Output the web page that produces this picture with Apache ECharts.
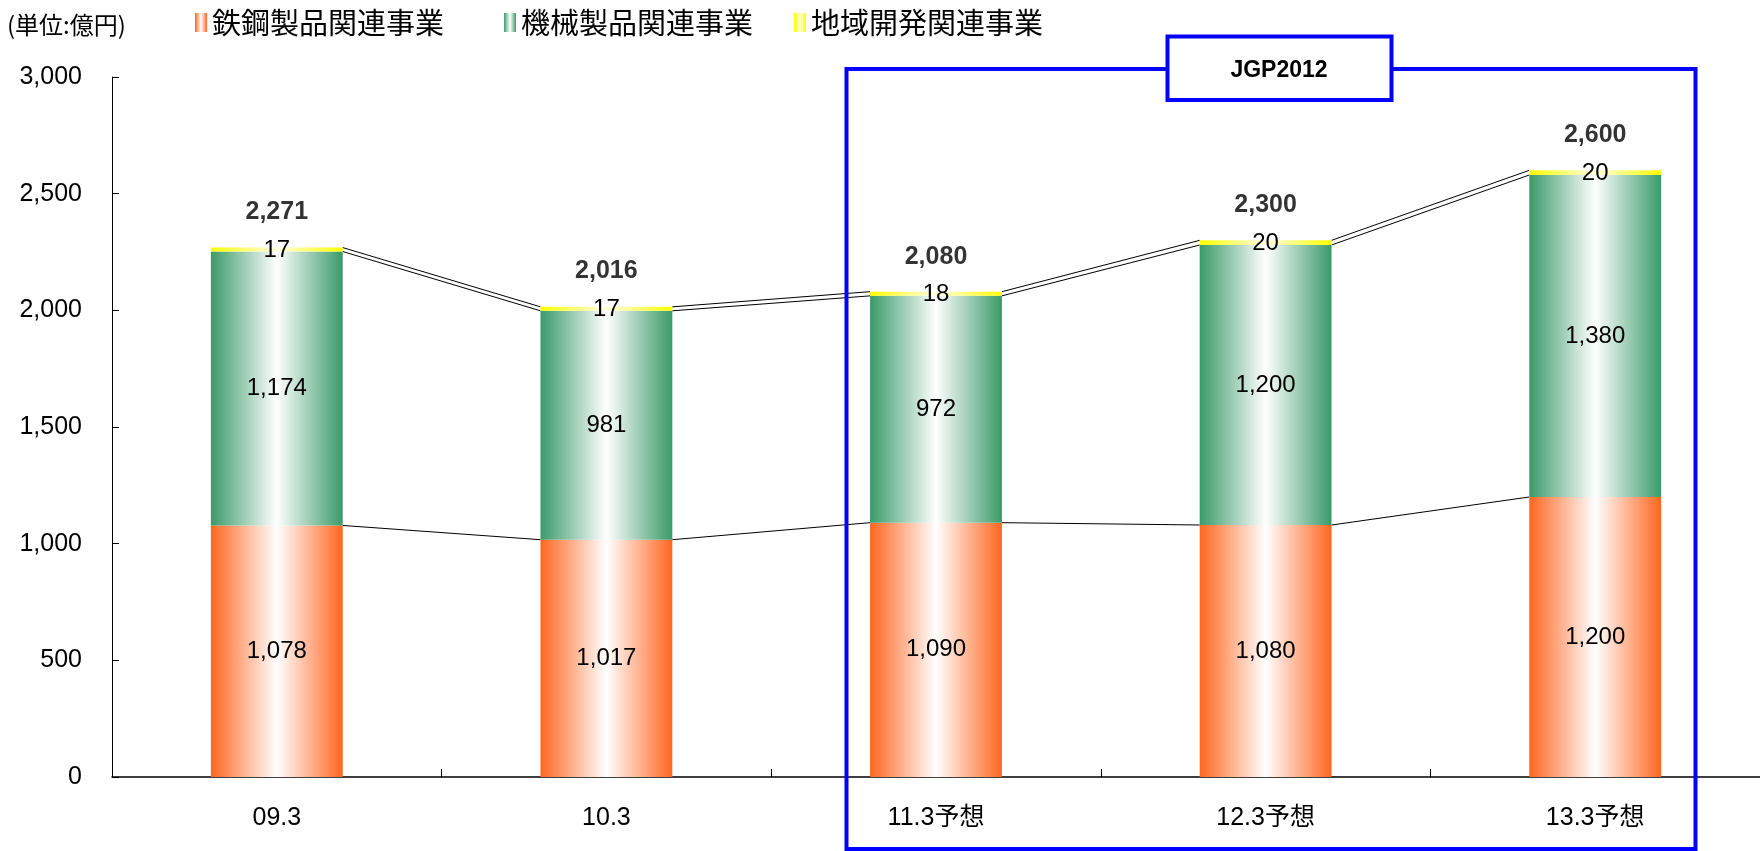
<!DOCTYPE html>
<html>
<head>
<meta charset="utf-8">
<script src="https://cdn.jsdelivr.net/npm/echarts@6/dist/echarts.min.js"></script>
<style>
html,body{margin:0;padding:0;background:#fff;}
#chart{width:1760px;height:851px;}
</style>
</head>
<body>
<div id="chart"></div>
<script>
const categories = ['09.3', '10.3', '11.3予想', '12.3予想', '13.3予想'];
const steel = [1078, 1017, 1090, 1080, 1200];
const machinery = [1174, 981, 972, 1200, 1380];
const regional = [17, 17, 18, 20, 20];
const totals = [2271, 2016, 2080, 2300, 2600];
const seriesNames = ['鉄鋼製品関連事業', '機械製品関連事業', '地域開発関連事業'];
const unitText = '(単位:億円)';
const boxText = 'JGP2012';

const FONT = '"Liberation Sans", Arial, "Noto Sans CJK JP", sans-serif';
const CJK = '"Noto Sans CJK JP", "Liberation Sans", sans-serif';

function grad(edge, mid) {
  return new echarts.graphic.LinearGradient(0, 0, 1, 0, [
    { offset: 0, color: edge },
    { offset: 0.5, color: mid || '#ffffff' },
    { offset: 1, color: edge }
  ]);
}
const fmt = v => Number(v).toLocaleString('en-US');

// connector data: [i, steelTop_i, steelTop_i+1, greenTop_i, greenTop_i+1, top_i, top_i+1]
const connectors = [];
for (let i = 0; i < categories.length - 1; i++) {
  const g0 = steel[i] + machinery[i], g1 = steel[i + 1] + machinery[i + 1];
  connectors.push([i, steel[i], steel[i + 1], g0, g1, g0 + regional[i], g1 + regional[i + 1]]);
}

const chart = echarts.init(document.getElementById('chart'), null, { renderer: 'canvas' });

const labelStyle = {
  show: true, position: 'inside', color: '#000', fontSize: 24, fontFamily: FONT,
  formatter: p => fmt(p.value)
};

const option = {
  animation: false,
  backgroundColor: '#ffffff',
  title: {
    text: unitText, left: 2, top: 8,
    textStyle: { fontSize: 24, fontWeight: 'normal', color: '#000', fontFamily: CJK }
  },
  legend: [0, 1, 2].map((k, idx) => ({
    data: [seriesNames[k]],
    left: [190, 499, 789][idx], top: 3,
    itemWidth: 12, itemHeight: 19, icon: 'rect',
    textStyle: { fontSize: 29, color: '#000', fontFamily: CJK }
  })),
  grid: { left: 112, right: -5, top: 77, bottom: 74, containLabel: false },
  xAxis: {
    type: 'category', data: categories,
    axisLine: { lineStyle: { color: '#000', width: 1.5 } },
    axisTick: { show: true, inside: true, length: 8, lineStyle: { color: '#000', width: 1 } },
    axisLabel: { color: '#000', fontSize: 25, fontFamily: FONT, margin: 29 },
    splitLine: { show: false }
  },
  yAxis: {
    type: 'value', min: 0, max: 3000, interval: 500,
    axisLine: { show: true, lineStyle: { color: '#000', width: 1 } },
    axisTick: { show: true, inside: true, length: 7, lineStyle: { color: '#000' } },
    axisLabel: { color: '#000', fontSize: 25, fontFamily: FONT, margin: 30, formatter: v => fmt(v) },
    splitLine: { show: false }
  },
  series: [
    {
      name: seriesNames[0], type: 'bar', stack: 'total', barWidth: '40%',
      data: steel, itemStyle: { color: grad('#ff6620') }, label: labelStyle, z: 3
    },
    {
      name: seriesNames[1], type: 'bar', stack: 'total', barWidth: '40%',
      data: machinery, itemStyle: { color: grad('#3a9a69') }, label: labelStyle, z: 3
    },
    {
      name: seriesNames[2], type: 'bar', stack: 'total', barWidth: '40%',
      data: regional, itemStyle: { color: grad('#ffff00', '#ffffe0') },
      label: Object.assign({}, labelStyle, { offset: [0, 1] }), z: 4
    },
    {
      name: 'totals', type: 'scatter', data: totals, symbolSize: 1,
      itemStyle: { color: 'rgba(0,0,0,0)' },
      label: {
        show: true, position: 'top', distance: 22, color: '#000', fontSize: 25,
        fontWeight: 'bold', fontFamily: FONT, formatter: p => fmt(p.value)
      },
      z: 5
    },
    {
      name: 'connectors', type: 'custom', data: connectors, z: 2,
      encode: { x: 0, y: [1, 2, 3, 4, 5, 6] },
      renderItem: function (params, api) {
        const i = api.value(0);
        const half = api.size([1, 0])[0] * 0.2;
        const children = [];
        [[1, 2], [3, 4], [5, 6]].forEach(([a, b]) => {
          const p0 = api.coord([i, api.value(a)]);
          const p1 = api.coord([i + 1, api.value(b)]);
          children.push({
            type: 'line',
            shape: { x1: p0[0] + half, y1: p0[1], x2: p1[0] - half, y2: p1[1] },
            style: { stroke: '#000', lineWidth: 1 }
          });
        });
        return { type: 'group', children: children };
      }
    }
  ],
  graphic: [
    {
      type: 'rect', z: 100, silent: true,
      shape: { x: 846.5, y: 69, width: 849, height: 780 },
      style: { fill: 'none', stroke: '#0000ff', lineWidth: 4 }
    },
    {
      type: 'rect', z: 101, silent: true,
      shape: { x: 1167.5, y: 36.5, width: 224, height: 63.5 },
      style: { fill: '#ffffff', stroke: '#0000ff', lineWidth: 4 }
    },
    {
      type: 'text', z: 102, silent: true,
      x: 1279, y: 71,
      style: {
        text: boxText, fill: '#000', fontSize: 23, fontWeight: 'bold', fontFamily: FONT,
        align: 'center', verticalAlign: 'middle'
      }
    }
  ]
};
chart.setOption(option);
</script>
</body>
</html>
